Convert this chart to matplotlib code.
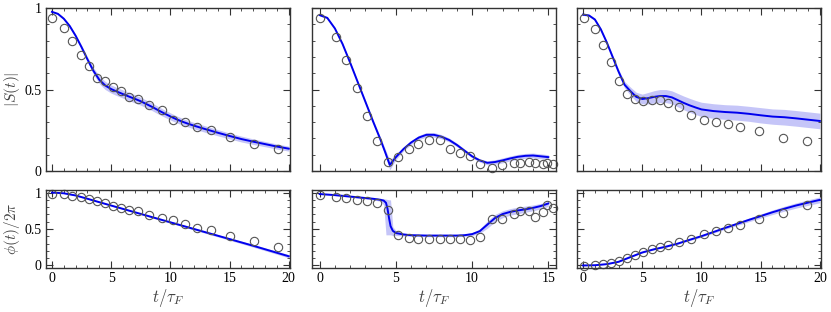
import numpy as np
import matplotlib
matplotlib.use("Agg")
import matplotlib.pyplot as plt
from matplotlib.ticker import MultipleLocator

plt.rcParams['font.family'] = ['Liberation Serif', 'DejaVu Serif']
plt.rcParams['mathtext.fontset'] = 'cm'

# ---------------- data ----------------
# measurement times (markers)
t_meas_a = [0.03, 1.04, 1.72, 2.42, 3.12, 3.83, 4.5, 5.17, 5.85, 6.47, 7.26, 8.21,
            9.26, 10.24, 11.25, 12.24, 13.42, 15.02, 17.1, 19.05]
S_meas_a = [0.94, 0.88, 0.80, 0.71, 0.644, 0.573, 0.552, 0.515, 0.489, 0.452, 0.442,
            0.403, 0.372, 0.313, 0.30, 0.272, 0.254, 0.209, 0.164, 0.137]
P_meas_a = [0.987, 0.978, 0.955, 0.933, 0.91, 0.879, 0.852, 0.816, 0.785, 0.767, 0.744,
            0.695, 0.655, 0.623, 0.574, 0.511, 0.489, 0.408, 0.332, 0.26]

t_meas_b = [0.04, 1.05, 1.72, 2.44, 3.1, 3.78, 4.5, 5.15, 5.85, 6.48, 7.2, 7.9, 8.56,
            9.23, 9.89, 10.54, 11.28, 11.96, 12.73, 13.16, 13.71, 14.15, 14.62, 14.93, 15.3]
S_meas_b = [0.94, 0.82, 0.679, 0.509, 0.337, 0.182, 0.057, 0.086, 0.137, 0.164, 0.19,
            0.188, 0.137, 0.11, 0.094, 0.045, 0.02, 0.039, 0.049, 0.049, 0.055, 0.049,
            0.043, 0.049, 0.045]
P_meas_b = [0.964, 0.937, 0.919, 0.901, 0.883, 0.861, 0.758, 0.417, 0.377, 0.368, 0.368,
            0.368, 0.363, 0.363, 0.35, 0.395, 0.632, 0.641, 0.709, 0.744, 0.749, 0.668,
            0.74, 0.825, 0.789]

t_meas_c = [0.06, 1.03, 1.7, 2.37, 3.04, 3.7, 4.4, 5.08, 5.8, 6.47, 7.14, 8.14, 9.12,
            10.24, 11.24, 12.24, 13.25, 14.87, 16.9, 18.94]
S_meas_c = [0.937, 0.871, 0.775, 0.667, 0.55, 0.474, 0.442, 0.431, 0.434, 0.438, 0.419,
            0.39, 0.344, 0.313, 0.299, 0.288, 0.272, 0.245, 0.204, 0.186]
P_meas_c = [-0.01, 0.009, 0.018, 0.031, 0.058, 0.099, 0.143, 0.188, 0.229, 0.256, 0.278,
            0.323, 0.368, 0.426, 0.471, 0.511, 0.556, 0.632, 0.726, 0.825]

# theory curves
t_th_a = [0, 0.5, 1, 1.5, 2, 2.5, 3, 3.5, 4, 4.5, 5, 5.5, 6, 6.5, 7, 7.5, 8, 8.5, 9, 9.5,
          10, 10.5, 11, 11.5, 12, 12.5, 13, 14, 15, 16, 17, 18, 19, 20]
S_th_a = [0.977, 0.965, 0.935, 0.89, 0.83, 0.76, 0.685, 0.615, 0.56, 0.525, 0.503, 0.487,
          0.472, 0.457, 0.443, 0.428, 0.41, 0.392, 0.372, 0.353, 0.335, 0.318, 0.303,
          0.29, 0.278, 0.267, 0.256, 0.235, 0.215, 0.196, 0.18, 0.165, 0.15, 0.137]
S_err_a = [0.004, 0.005, 0.006, 0.008, 0.01, 0.012, 0.015, 0.02, 0.024, 0.025, 0.025,
           0.025, 0.025, 0.025, 0.025, 0.024, 0.024, 0.023, 0.023, 0.022, 0.022, 0.021,
           0.021, 0.02, 0.02, 0.02, 0.02, 0.019, 0.018, 0.018, 0.017, 0.016, 0.016, 0.015]
t_ph_a = [0, 1, 2, 3, 4, 5, 6, 7, 8, 9, 10, 11, 12, 13, 14, 15, 16, 17, 18, 19, 20]
P_th_a = [1.0, 0.99, 0.96, 0.915, 0.868, 0.822, 0.776, 0.73, 0.684, 0.638, 0.592, 0.546,
          0.5, 0.454, 0.408, 0.362, 0.316, 0.27, 0.222, 0.174, 0.126]
P_err_a = [0.002, 0.003, 0.004, 0.005, 0.006, 0.007, 0.008, 0.009, 0.01, 0.011, 0.012,
           0.013, 0.014, 0.015, 0.016, 0.017, 0.018, 0.019, 0.02, 0.021, 0.022]

t_th_b = [0, 0.5, 1, 1.5, 2, 2.5, 3, 3.5, 4, 4.3, 4.6, 5, 5.5, 6, 6.5, 7, 7.5, 8, 8.5, 9,
          9.5, 10, 10.5, 11, 11.5, 12, 12.5, 13, 13.5, 14, 14.5, 15]
S_th_b = [0.957, 0.94, 0.875, 0.78, 0.665, 0.545, 0.425, 0.305, 0.19, 0.115, 0.037, 0.085,
          0.135, 0.175, 0.205, 0.222, 0.222, 0.21, 0.19, 0.16, 0.125, 0.09, 0.065, 0.05,
          0.055, 0.065, 0.077, 0.087, 0.093, 0.095, 0.09, 0.085]
S_err_b = [0.004, 0.005, 0.006, 0.007, 0.008, 0.009, 0.01, 0.012, 0.015, 0.02, 0.03, 0.015,
           0.012, 0.012, 0.013, 0.014, 0.014, 0.013, 0.012, 0.011, 0.01, 0.01, 0.01, 0.012,
           0.014, 0.015, 0.015, 0.015, 0.015, 0.015, 0.015, 0.015]
t_ph_b = [0, 1, 2, 3, 3.5, 4, 4.2, 4.35, 4.45, 4.55, 4.65, 4.8, 5, 5.5, 6, 7, 8, 9, 9.5,
          10, 10.5, 11, 11.5, 12, 12.5, 13, 13.5, 14, 14.5, 15]
P_th_b = [0.98, 0.965, 0.945, 0.925, 0.915, 0.9, 0.89, 0.86, 0.78, 0.65, 0.54, 0.475, 0.445,
          0.425, 0.415, 0.41, 0.41, 0.41, 0.415, 0.43, 0.47, 0.56, 0.65, 0.705, 0.735,
          0.755, 0.77, 0.79, 0.815, 0.85]
P_lo_b = [0.975, 0.958, 0.935, 0.912, 0.9, 0.88, 0.83, 0.42, 0.42, 0.42, 0.42, 0.41, 0.41,
          0.405, 0.4, 0.395, 0.395, 0.395, 0.4, 0.41, 0.44, 0.51, 0.6, 0.655, 0.69, 0.71,
          0.73, 0.75, 0.775, 0.81]
P_hi_b = [0.985, 0.972, 0.955, 0.94, 0.93, 0.92, 0.915, 0.91, 0.905, 0.9, 0.9, 0.53, 0.48,
          0.445, 0.43, 0.425, 0.425, 0.425, 0.43, 0.45, 0.5, 0.61, 0.7, 0.75, 0.78, 0.8,
          0.815, 0.83, 0.85, 0.88]

t_th_c = [0, 0.5, 1, 1.5, 2, 2.5, 3, 3.5, 4, 4.5, 5, 5.5, 6, 6.5, 7, 7.5, 8, 8.5, 9, 9.5,
          10, 11, 12, 13, 14, 15, 16, 17, 18, 19, 20]
S_th_c = [0.96, 0.955, 0.93, 0.87, 0.79, 0.70, 0.61, 0.53, 0.49, 0.455, 0.442, 0.447, 0.455,
          0.46, 0.46, 0.452, 0.435, 0.418, 0.403, 0.39, 0.378, 0.368, 0.362, 0.358, 0.351,
          0.342, 0.334, 0.33, 0.323, 0.315, 0.307]
S_err_c = [0.005, 0.006, 0.007, 0.008, 0.01, 0.012, 0.015, 0.02, 0.025, 0.028, 0.03, 0.035,
           0.038, 0.04, 0.04, 0.04, 0.041, 0.042, 0.043, 0.043, 0.044, 0.045, 0.045, 0.046,
           0.046, 0.047, 0.047, 0.048, 0.048, 0.048, 0.048]
t_ph_c = [0, 1, 2, 3, 4, 5, 6, 7, 8, 9, 10, 11, 12, 13, 14, 15, 16, 17, 18, 19, 20]
P_th_c = [0.0, 0.003, 0.018, 0.05, 0.115, 0.178, 0.222, 0.258, 0.30, 0.352, 0.402, 0.458,
          0.515, 0.57, 0.625, 0.677, 0.73, 0.778, 0.823, 0.862, 0.9]
P_err_c = [0.003, 0.003, 0.004, 0.005, 0.006, 0.007, 0.008, 0.009, 0.01, 0.012, 0.014,
           0.016, 0.019, 0.022, 0.025, 0.028, 0.031, 0.034, 0.036, 0.038, 0.04]

xlims = [(-0.5, 20.1), (-0.5, 15.5), (-0.5, 20.1)]
xticks = [[0, 5, 10, 15, 20], [0, 5, 10, 15], [0, 5, 10, 15, 20]]

# ---------------- figure ----------------
fig = plt.figure(figsize=(8.31, 3.12), dpi=100)
lefts = [0.0554, 0.3755, 0.6945]
width = 0.2935
top_box = (0.452, 0.522)
bot_box = (0.141, 0.25)

line_c = '#0000ee'
band_c = '#8080f0'
mk_c = '#555555'
lab_c = '#444444'


def style(ax, xl, xt, ylim, show_x, show_y):
    ax.set_xlim(*xl)
    ax.set_ylim(*ylim)
    ax.set_xticks(xt)
    ax.xaxis.set_minor_locator(MultipleLocator(1))
    ax.set_yticks([0, 0.5, 1])
    ax.set_yticklabels(['0', '0.5', '1'])
    ax.yaxis.set_minor_locator(MultipleLocator(0.1))
    ax.tick_params(which='both', direction='in', top=True, right=True,
                   labelsize=10, color='#333333', pad=3)
    ax.tick_params(which='major', length=5, width=0.8)
    ax.tick_params(which='minor', length=2.5, width=0.6)
    for s in ax.spines.values():
        s.set_color('#333333')
        s.set_linewidth(1.0)
    if not show_x:
        ax.tick_params(labelbottom=False)
    if not show_y:
        ax.tick_params(labelleft=False)


groups = [
    (t_th_a, S_th_a, S_err_a, t_meas_a, S_meas_a, t_ph_a, P_th_a, P_err_a, P_meas_a),
    (t_th_b, S_th_b, S_err_b, t_meas_b, S_meas_b, t_ph_b, P_th_b, None, P_meas_b),
    (t_th_c, S_th_c, S_err_c, t_meas_c, S_meas_c, t_ph_c, P_th_c, P_err_c, P_meas_c),
]

for i, (tt, S, Se, tm, Sm, tp, P, Pe, Pm) in enumerate(groups):
    axt = fig.add_axes([lefts[i], top_box[0], width, top_box[1]])
    tt = np.array(tt); S = np.array(S); Se = np.array(Se)
    axt.fill_between(tt, S - Se, S + Se, color=band_c, alpha=0.45, lw=0)
    axt.plot(tt, S, color=line_c, lw=1.4)
    axt.plot(tm, Sm, 'o', mfc='none', mec=mk_c, mew=0.8, ms=6, clip_on=False)
    style(axt, xlims[i], xticks[i], (0, 1), False, i == 0)
    if i == 0:
        axt.set_ylabel(r'$|S(t)|$', color=lab_c, fontsize=11, labelpad=2)

    axb = fig.add_axes([lefts[i], bot_box[0], width, bot_box[1]])
    tp = np.array(tp); P = np.array(P)
    if Pe is None:
        axb.fill_between(tp, P_lo_b, P_hi_b, color=band_c, alpha=0.45, lw=0)
    else:
        Pe = np.array(Pe)
        axb.fill_between(tp, P - Pe, P + Pe, color=band_c, alpha=0.45, lw=0)
    axb.plot(tp, P, color=line_c, lw=1.4)
    axb.plot(tm, Pm, 'o', mfc='none', mec=mk_c, mew=0.8, ms=6, clip_on=False)
    style(axb, xlims[i], xticks[i], (-0.035, 1.035), True, i == 0)
    axb.set_xlabel(r'$t/\tau_F$', color=lab_c, fontsize=12, labelpad=1)
    if i == 0:
        axb.set_ylabel(r'$\phi(t)/2\pi$', color=lab_c, fontsize=11, labelpad=2)

fig.savefig('out.png', dpi=100)
